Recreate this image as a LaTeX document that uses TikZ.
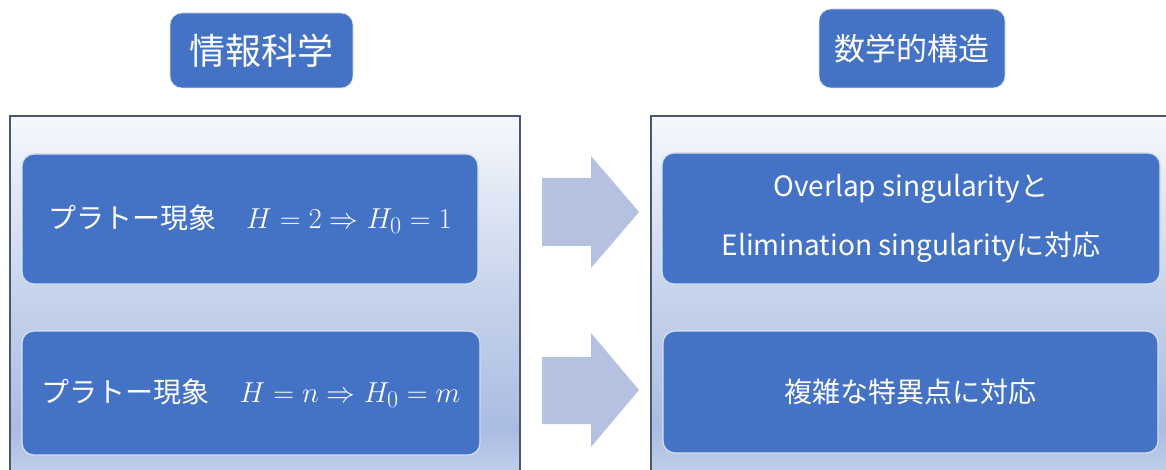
\documentclass[tikz,border=0pt]{standalone}
\usepackage[no-math]{fontspec}
\setmainfont{Noto Sans CJK JP}
\definecolor{boxblue}{RGB}{68,114,196}
\definecolor{boxedge}{RGB}{214,224,242}
\definecolor{arrowblue}{RGB}{180,193,225}
\definecolor{frameline}{RGB}{72,88,116}
\definecolor{ptop}{RGB}{246,248,252}
\definecolor{pmid}{RGB}{198,211,235}
\definecolor{pdeep}{RGB}{170,188,226}
\definecolor{pbot}{RGB}{194,208,234}
\pgfdeclareverticalshading{panelshade}{100bp}{color(0bp)=(pbot); color(25bp)=(pbot); color(31.5bp)=(pdeep); color(50bp)=(pmid); color(75bp)=(ptop); color(100bp)=(ptop)}
\newcommand{\itemfont}{\fontsize{28}{59}\selectfont}
% formulas: largest fixed math size, enlarged to sit with the 28pt text
\newcommand{\bigformula}[1]{\scalebox{1.16}{$#1$}}
\tikzset{
  panel/.style={draw=frameline, line width=1.2pt, shading=panelshade},
  titlebox/.style={fill=boxblue, draw=boxedge, line width=0.6pt, rounded corners=12pt,
    text=white, inner sep=0pt},
  itembox/.style={fill=boxblue, draw=boxedge, line width=1.2pt, rounded corners=12pt,
    text=white, inner sep=0pt, align=center, font=\itemfont},
  bigarrow/.style={fill=arrowblue},
}
\begin{document}
\begin{tikzpicture}[x=1pt, y=-1pt]
  \useasboundingbox (0,0) rectangle (1166,470);
  \clip (0,0) rectangle (1166,470);

  % headings
  \node[titlebox, minimum width=183pt, minimum height=75pt] (info) at (261.5,50.5)
    {\fontsize{36}{40}\selectfont 情報科学};
  \node[titlebox, minimum width=186pt, minimum height=79pt] (math) at (912,48.5)
    {\fontsize{31}{36}\selectfont 数学的構造};

  % gradient panels
  \path[panel] (10,116) rectangle (520,476);
  \path[panel] (651,116) rectangle (1178,476);

  % left column
  \node[itembox, minimum width=456pt, minimum height=130pt] (l1) at (250,219)
    {プラトー現象\hspace{30pt}\bigformula{H=2\Rightarrow H_0=1}};
  \node[itembox, minimum width=458pt, minimum height=124pt] (l2) at (251,393)
    {プラトー現象\hspace{30pt}\bigformula{H=n\Rightarrow H_0=m}};

  % right column
  \node[itembox, minimum width=498pt, minimum height=131pt] (r1) at (911,218.5)
    {Overlap singularityと\\Elimination singularityに対応};
  \node[itembox, minimum width=495pt, minimum height=122pt] (r2) at (910.5,392)
    {複雑な特異点に対応};

  % block arrows between the columns
  \fill[bigarrow] (542,178) -- (591,178) -- (591,156) -- (639,212) -- (591,268)
    -- (591,246) -- (542,246) -- cycle;
  \fill[bigarrow] (542,357) -- (591,357) -- (591,333) -- (639,390) -- (591,447)
    -- (591,424) -- (542,424) -- cycle;
\end{tikzpicture}
\end{document}
